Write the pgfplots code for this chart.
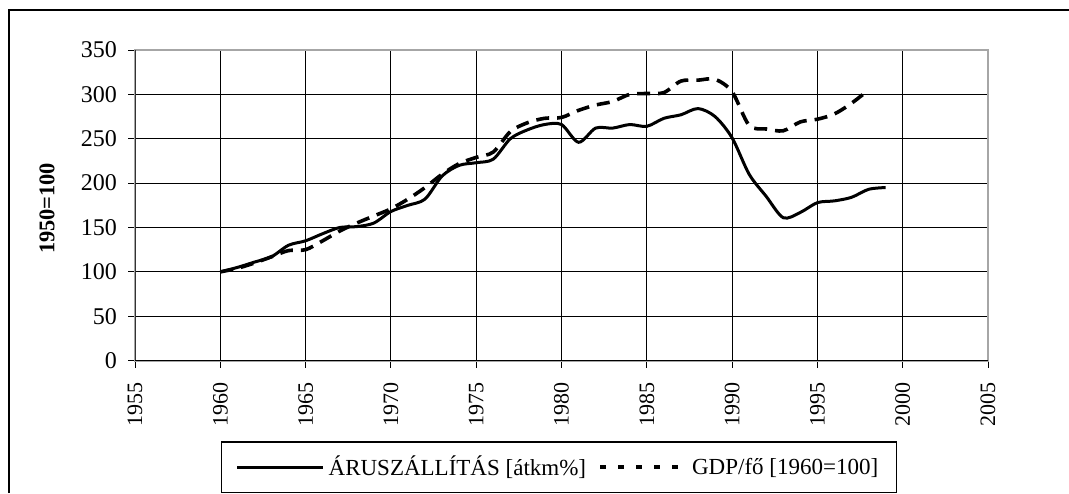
\documentclass[border=0pt]{standalone}
\usepackage{fontspec}
\setmainfont{Liberation Serif}
\usepackage{pgfplots}
\pgfplotsset{compat=1.18}
\begin{document}
\begin{tikzpicture}
\useasboundingbox (0,0) rectangle (534.5pt,246.5pt);
\draw[line width=0.8pt] (4.5pt,0pt) -- (4.5pt,241.5pt) -- (534.5pt,241.5pt);
\begin{axis}[
  at={(67.5pt,66.2pt)}, anchor=south west,
  scale only axis, width=426.5pt, height=155.3pt,
  xmin=1955, xmax=2005, ymin=0, ymax=350,
  xtick={1955,1960,...,2005}, ytick={0,50,...,350},
  xtick pos=bottom, ytick pos=left,
  grid=major, major grid style={black, line width=0.5pt},
  axis line style={draw=gray!70, line width=1pt},
  tick align=outside, major tick length=3.5pt,
  tick style={black, line width=0.5pt},
  /pgf/number format/assume math mode=true,
  /pgf/number format/1000 sep={},
  xticklabel style={font=\fontsize{11}{13}\selectfont, rotate=90, anchor=east, xshift=-4pt},
  yticklabel style={font=\fontsize{12}{14}\selectfont, xshift=-2pt},
  ylabel={\textbf{1950=100}},
  every axis y label/.style={at={(axis description cs:-0.103,0.49)}, rotate=90, anchor=center,
    font=\fontsize{11.2}{13}\selectfont},
  legend columns=2,
  legend style={at={(0.497,-0.344)}, anchor=center, draw=black, line width=0.6pt,
    font=\fontsize{11.5}{13}\selectfont, inner xsep=7pt, inner ysep=5pt,
    /tikz/every even column/.append style={column sep=4pt}},
  legend cell align=left,
]
\addplot[black, line width=1.5pt, smooth, tension=0.5, mark=none,
  legend image code/.code={\draw[black, line width=1.5pt] (0pt,0pt) -- (43pt,0pt);}]
coordinates {
(1960,100) (1961,105) (1962,111) (1963,117) (1964,130) (1965,135) (1966,143)
(1967,150) (1968,151) (1969,155) (1970,168) (1971,175) (1972,182) (1973,208)
(1974,220) (1975,223) (1976,227) (1977,250) (1978,260) (1979,266) (1980,266)
(1981,246) (1982,262) (1983,262) (1984,266) (1985,264) (1986,273) (1987,277)
(1988,284) (1989,275) (1990,251) (1991,210) (1992,185) (1993,161) (1994,167)
(1995,178) (1996,180) (1997,184) (1998,193) (1999,195)
};
\addlegendentry{ÁRUSZÁLLÍTÁS [átkm\%]}
\addplot[black, line width=1.8pt, smooth, tension=0.5, mark=none, dash pattern=on 6.5pt off 4pt,
  legend image code/.code={\draw[black, line width=2pt, dash pattern=on 3pt off 6pt] (0pt,0pt) -- (43pt,0pt);}]
coordinates {
(1960,100) (1961,104) (1962,110) (1963,117) (1964,124) (1965,125) (1966,135)
(1967,146) (1968,155) (1969,163) (1970,171) (1971,182) (1972,195) (1973,210)
(1974,222) (1975,229) (1976,235) (1977,258) (1978,268) (1979,273) (1980,274)
(1981,282) (1982,288) (1983,292) (1984,300) (1985,301) (1986,302) (1987,315)
(1988,316) (1989,317) (1990,303) (1991,265) (1992,261) (1993,259) (1994,269)
(1995,272) (1996,278) (1997,290) (1998,305)
};
\addlegendentry{GDP/fő [1960=100]}
\draw[black!80, line width=1pt] (rel axis cs:0,0) -- (rel axis cs:0,1);
\draw[black, line width=0.8pt] (rel axis cs:0,0) -- (rel axis cs:1,0);
\end{axis}
\end{tikzpicture}
\end{document}
